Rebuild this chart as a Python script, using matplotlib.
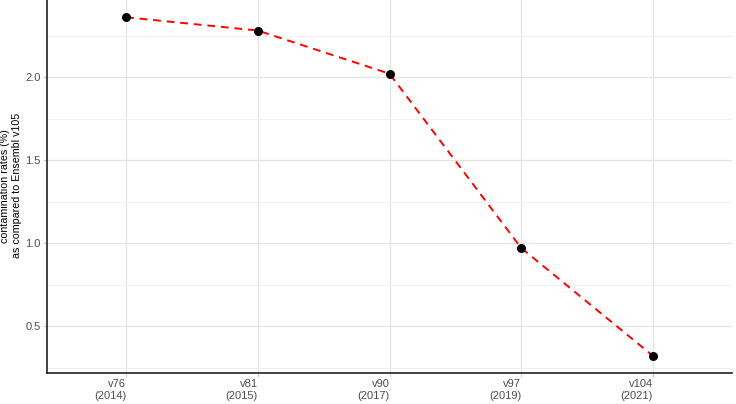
import numpy as np
import matplotlib.pyplot as plt

plt.rcParams['font.family'] = ['Liberation Sans', 'DejaVu Sans']

# data
releases = ['v76\n(2014)', 'v81\n(2015)', 'v90\n(2017)', 'v97\n(2019)', 'v104\n(2021)']
contamination = [2.36, 2.28, 2.02, 0.97, 0.32]

x = np.arange(1, len(releases) + 1)

fig = plt.figure(figsize=(7.36, 4.04), dpi=100)
ax = fig.add_axes([47 / 736, 31 / 404, 685 / 736, 373 / 404])

ax.plot(x, contamination, color='red', linestyle=(0, (4, 3)), linewidth=1.4, zorder=2)
ax.scatter(x, contamination, color='black', s=30, zorder=3)

ax.set_xlim(0.4, 5.6)
ax.set_ylim(0.217, 2.464)
ax.set_xticks(x)
ax.set_xticklabels(releases, ha='right', multialignment='right')
ax.set_yticks([0.5, 1.0, 1.5, 2.0])
ax.set_yticks([0.25, 0.75, 1.25, 1.75, 2.25], minor=True)

ax.grid(True, which='major', color='#e3e3e3', linewidth=0.9, zorder=0)
ax.grid(True, which='minor', axis='y', color='#efefef', linewidth=0.6, zorder=0)
ax.set_axisbelow(True)

for s in ['top', 'right']:
    ax.spines[s].set_visible(False)
for s in ['left', 'bottom']:
    ax.spines[s].set_linewidth(1.2)
    ax.spines[s].set_color('#222222')

ax.tick_params(axis='both', which='major', length=3, width=0.8, color='#d0d0d0',
               labelsize=8, labelcolor='#4d4d4d', pad=1.5)
ax.tick_params(axis='y', which='minor', length=0)

# y label placed by hand so both lines stay inside the figure
fig.text(11 / 736, 0.54, 'contamination rates (%)\nas compared to Ensembl v105',
         rotation=90, ha='center', va='center', fontsize=7.7, multialignment='center',
         linespacing=1.25)

fig.savefig('out.png', dpi=100)
